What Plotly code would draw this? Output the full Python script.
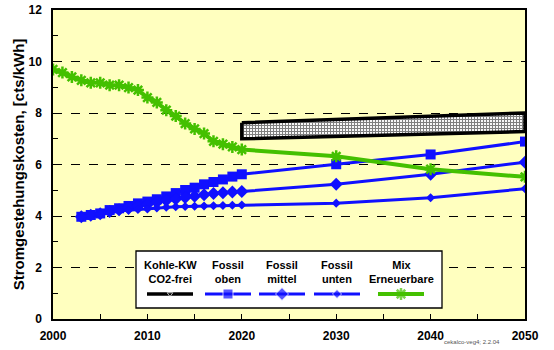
import plotly.graph_objects as go

# ---------------- data ----------------
years_mix = list(range(2000, 2021)) + [2030, 2040, 2050]
mix = [9.69, 9.57, 9.40, 9.27, 9.17, 9.17, 9.08, 9.08, 8.99, 8.89, 8.60,
       8.41, 8.11, 7.88, 7.59, 7.38, 7.20, 6.90, 6.79, 6.68, 6.58,
       6.32, 5.82, 5.52]

years_fossil = list(range(2003, 2021)) + [2030, 2040, 2050]
fossil_oben = [3.97, 4.04, 4.10, 4.23, 4.30, 4.39, 4.49, 4.56, 4.65, 4.76,
               4.89, 5.01, 5.10, 5.23, 5.32, 5.42, 5.53, 5.62,
               6.01, 6.39, 6.89]
fossil_mittel = [3.97, 4.03, 4.09, 4.17, 4.24, 4.32, 4.39, 4.46, 4.53, 4.60,
                 4.66, 4.72, 4.77, 4.83, 4.87, 4.90, 4.93, 4.95,
                 5.23, 5.62, 6.09]
fossil_unten = [3.97, 4.03, 4.08, 4.14, 4.19, 4.22, 4.25, 4.27, 4.31, 4.34,
                4.36, 4.37, 4.38, 4.39, 4.40, 4.41, 4.42, 4.43,
                4.50, 4.71, 5.06]

years_kohle = [2020, 2030, 2040, 2050]
kohle_oben = [7.62, 7.75, 7.87, 8.00]
kohle_unten = [7.00, 7.10, 7.19, 7.28]

legend_labels = ["Kohle-KW<br>CO2-frei", "Fossil<br>oben", "Fossil<br>mittel",
                 "Fossil<br>unten", "Mix<br>Erneuerbare"]

y_title = "Stromgestehungskosten, [cts/kWh]"
footnote = "cekalco-veg4; 2.2.04"

# ---------------- style ----------------
W, H = 554, 350
ML, MR, MT, MB = 53, 29, 10, 31
XR = [2000, 2050]
YR = [0, 12]
BLUE = "#1010FF"
GREEN = "#44C000"
FONT = "Liberation Sans"


def px2x(px):
    return XR[0] + (px - ML) / (W - ML - MR) * (XR[1] - XR[0])


def px2y(py):
    return YR[0] + (H - MB - py) / (H - MT - MB) * (YR[1] - YR[0])


fig = go.Figure()

# Kohle-KW band (closed polygon, hatched)
fig.add_trace(go.Scatter(
    x=years_kohle + years_kohle[::-1] + years_kohle[:1],
    y=kohle_oben + kohle_unten[::-1] + kohle_oben[:1],
    mode="lines", fill="toself",
    line=dict(color="black", width=3.5),
    fillcolor="white",
    fillpattern=dict(shape="+", fgcolor="black", bgcolor="white",
                     size=3, solidity=0.6),
    showlegend=False, hoverinfo="skip"))

fig.add_trace(go.Scatter(
    x=years_fossil, y=fossil_oben, mode="lines+markers",
    line=dict(color=BLUE, width=3),
    marker=dict(symbol="square", size=10, color=BLUE),
    showlegend=False))
fig.add_trace(go.Scatter(
    x=years_fossil, y=fossil_mittel, mode="lines+markers",
    line=dict(color=BLUE, width=3),
    marker=dict(symbol="diamond", size=10, color=BLUE),
    showlegend=False))
fig.add_trace(go.Scatter(
    x=years_fossil, y=fossil_unten, mode="lines+markers",
    line=dict(color=BLUE, width=3),
    marker=dict(symbol="diamond", size=7, color=BLUE),
    showlegend=False))
fig.add_trace(go.Scatter(
    x=years_mix, y=mix, mode="lines+markers",
    line=dict(color=GREEN, width=4),
    marker=dict(symbol="asterisk-open", size=10, color=GREEN,
                line=dict(color=GREEN, width=2.5)),
    showlegend=False))

# ---------------- custom legend ----------------
box_l, box_r, box_t, box_b = 136, 442, 251, 308
fig.add_shape(type="rect", xref="x", yref="y",
              x0=px2x(box_l), x1=px2x(box_r), y0=px2y(box_b), y1=px2y(box_t),
              fillcolor="white", line=dict(color="black", width=1.3),
              layer="between")

col_centers = [170, 228, 282, 337, 401]
sample_half = 23
sample_py = 294
sample_styles = [
    dict(line=dict(color="black", width=3.5), marker=dict(symbol="triangle-down", size=5, color="black")),
    dict(line=dict(color=BLUE, width=3), marker=dict(symbol="square", size=10, color=BLUE)),
    dict(line=dict(color=BLUE, width=3), marker=dict(symbol="diamond", size=10, color=BLUE)),
    dict(line=dict(color=BLUE, width=3), marker=dict(symbol="diamond", size=7, color=BLUE)),
    dict(line=dict(color=GREEN, width=4), marker=dict(symbol="asterisk-open", size=10, color=GREEN,
                                                       line=dict(color=GREEN, width=2.5))),
]
for cx, lab, st in zip(col_centers, legend_labels, sample_styles):
    fig.add_annotation(x=px2x(cx), y=px2y(271.5), xref="x", yref="y",
                       text="<b>" + lab + "</b>", showarrow=False,
                       font=dict(family=FONT, size=11, color="black"),
                       align="center", xanchor="center", yanchor="middle")
    fig.add_trace(go.Scatter(
        x=[px2x(cx - sample_half), px2x(cx), px2x(cx + sample_half)],
        y=[px2y(sample_py)] * 3, mode="lines+markers",
        showlegend=False, hoverinfo="skip", **st))

# only the middle point of each legend sample carries a marker
for tr in fig.data[5:]:
    tr.marker.size = [0, tr.marker.size, 0]

# footnote below the plot (paper coords are relative to the plot area)
fig.add_annotation(x=(472 - ML) / (W - ML - MR),
                   y=(H - MB - 342) / (H - MT - MB),
                   xref="paper", yref="paper",
                   text=footnote, showarrow=False,
                   font=dict(family=FONT, size=6, color="#555555"),
                   xanchor="center", yanchor="middle")

fig.update_layout(
    width=W, height=H,
    margin=dict(l=ML, r=MR, t=MT, b=MB, autoexpand=False),
    paper_bgcolor="white", plot_bgcolor="#FFFFBF",
    showlegend=False,
    font=dict(family=FONT, color="black"),
    xaxis=dict(range=XR, tickvals=[2000, 2010, 2020, 2030, 2040, 2050],
               automargin=False,
               ticks="inside", ticklen=5, tickcolor="black",
               ticklabelstandoff=5,
               showgrid=False, zeroline=False,
               showline=True, linecolor="black", linewidth=1.5, mirror=True,
               tickfont=dict(family=FONT, size=12, color="black", weight="bold"),
               minor=dict(tickvals=[2005, 2015, 2025, 2035, 2045], ticks="inside",
                          ticklen=5, tickcolor="black")),
    yaxis=dict(range=YR, tickvals=[0, 2, 4, 6, 8, 10, 12],
               automargin=False,
               ticks="inside", ticklen=5, tickcolor="black",
               ticklabelstandoff=7,
               showgrid=True, gridcolor="black", griddash="dash", gridwidth=1,
               zeroline=False,
               showline=True, linecolor="black", linewidth=1.5, mirror=True,
               tickfont=dict(family=FONT, size=12, color="black", weight="bold"),
               title=dict(text=y_title, standoff=0,
                          font=dict(family=FONT, size=15, color="black", weight="bold")),
               minor=dict(tickvals=[1, 3, 5, 7, 9, 11], ticks="inside",
                          ticklen=5, tickcolor="black", showgrid=False)),
)

fig.write_html("out.html")
